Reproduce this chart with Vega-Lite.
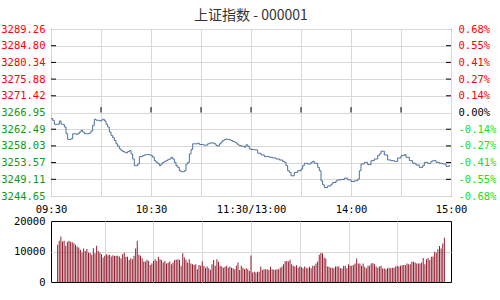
{
  "$schema": "https://vega.github.io/schema/vega-lite/v6.json",
  "background": "white",
  "padding": {"left": 0, "right": 0, "top": 8, "bottom": 0},
  "autosize": {"type": "pad"},
  "title": {"text": "上证指数 - 000001", "font": "Noto Sans CJK SC", "fontSize": 14, "fontWeight": "normal", "color": "#333333", "anchor": "middle", "offset": 1},
  "bounds": "flush",
  "spacing": 25,
  "datasets": {
    "price": [
      {"m":0,"p":3265.33},{"m":1,"p":3264.88},{"m":2,"p":3263.80},{"m":3,"p":3263.80},{"m":4,"p":3263.80},{"m":5,"p":3264.70},{"m":6,"p":3263.80},{"m":7,"p":3263.80},{"m":8,"p":3263.08},{"m":9,"p":3261.29},
      {"m":10,"p":3259.76},{"m":11,"p":3259.76},{"m":12,"p":3259.94},{"m":13,"p":3261.29},{"m":14,"p":3261.29},{"m":15,"p":3261.11},{"m":16,"p":3261.29},{"m":17,"p":3261.74},{"m":18,"p":3262.19},{"m":19,"p":3261.74},
      {"m":20,"p":3261.29},{"m":21,"p":3261.29},{"m":22,"p":3261.29},{"m":23,"p":3261.47},{"m":24,"p":3262.01},{"m":25,"p":3263.53},{"m":26,"p":3265.15},{"m":27,"p":3264.88},{"m":28,"p":3264.88},{"m":29,"p":3264.70},
      {"m":30,"p":3264.88},{"m":31,"p":3265.15},{"m":32,"p":3264.70},{"m":33,"p":3263.80},{"m":34,"p":3263.08},{"m":35,"p":3261.74},{"m":36,"p":3260.84},{"m":37,"p":3260.21},{"m":38,"p":3259.49},{"m":39,"p":3258.59},
      {"m":40,"p":3257.96},{"m":41,"p":3257.24},{"m":42,"p":3256.79},{"m":43,"p":3256.52},{"m":44,"p":3256.34},{"m":45,"p":3256.16},{"m":46,"p":3256.52},{"m":47,"p":3256.79},{"m":48,"p":3255.89},{"m":49,"p":3254.54},
      {"m":50,"p":3252.75},{"m":51,"p":3252.75},{"m":52,"p":3253.20},{"m":53,"p":3255.17},{"m":54,"p":3255.17},{"m":55,"p":3255.44},{"m":56,"p":3255.62},{"m":57,"p":3255.71},{"m":58,"p":3255.71},{"m":59,"p":3255.62},
      {"m":60,"p":3255.44},{"m":61,"p":3254.99},{"m":62,"p":3254.09},{"m":63,"p":3253.64},{"m":64,"p":3253.38},{"m":65,"p":3252.75},{"m":66,"p":3253.20},{"m":67,"p":3253.64},{"m":68,"p":3253.91},{"m":69,"p":3254.09},
      {"m":70,"p":3254.36},{"m":71,"p":3254.54},{"m":72,"p":3254.99},{"m":73,"p":3254.54},{"m":74,"p":3253.64},{"m":75,"p":3252.75},{"m":76,"p":3252.30},{"m":77,"p":3251.40},{"m":78,"p":3251.13},{"m":79,"p":3251.13},
      {"m":80,"p":3251.40},{"m":81,"p":3253.20},{"m":82,"p":3253.64},{"m":83,"p":3255.89},{"m":84,"p":3257.06},{"m":85,"p":3258.59},{"m":86,"p":3258.59},{"m":87,"p":3258.59},{"m":88,"p":3258.77},{"m":89,"p":3258.41},
      {"m":90,"p":3258.41},{"m":91,"p":3258.32},{"m":92,"p":3258.23},{"m":93,"p":3258.23},{"m":94,"p":3258.59},{"m":95,"p":3258.77},{"m":96,"p":3258.86},{"m":97,"p":3258.77},{"m":98,"p":3258.59},{"m":99,"p":3258.14},
      {"m":100,"p":3257.96},{"m":101,"p":3258.59},{"m":102,"p":3259.04},{"m":103,"p":3259.49},{"m":104,"p":3259.76},{"m":105,"p":3259.85},{"m":106,"p":3259.76},{"m":107,"p":3259.67},{"m":108,"p":3259.49},{"m":109,"p":3259.22},
      {"m":110,"p":3259.04},{"m":111,"p":3258.77},{"m":112,"p":3258.32},{"m":113,"p":3258.14},{"m":114,"p":3257.96},{"m":115,"p":3257.96},{"m":116,"p":3257.69},{"m":117,"p":3258.32},{"m":118,"p":3257.96},{"m":119,"p":3257.24},
      {"m":120,"p":3257.06},{"m":122,"p":3256.97},{"m":124,"p":3256.07},{"m":126,"p":3255.62},{"m":128,"p":3255.17},{"m":131,"p":3254.99},{"m":133,"p":3254.81},{"m":135,"p":3254.54},{"m":137,"p":3254.27},{"m":139,"p":3253.91},
      {"m":140,"p":3253.64},{"m":141,"p":3252.75},{"m":142,"p":3251.40},{"m":143,"p":3250.95},{"m":144,"p":3250.05},{"m":146,"p":3250.95},{"m":148,"p":3251.40},{"m":150,"p":3251.85},{"m":151,"p":3252.75},{"m":152,"p":3253.38},
      {"m":154,"p":3253.20},{"m":156,"p":3253.64},{"m":157,"p":3253.91},{"m":158,"p":3253.38},{"m":160,"p":3252.30},{"m":161,"p":3251.40},{"m":162,"p":3248.70},{"m":163,"p":3247.62},{"m":164,"p":3246.90},{"m":166,"p":3247.35},
      {"m":168,"p":3247.80},{"m":169,"p":3248.25},{"m":171,"p":3248.70},{"m":172,"p":3248.97},{"m":174,"p":3249.06},{"m":176,"p":3249.42},{"m":178,"p":3248.97},{"m":180,"p":3248.52},{"m":182,"p":3248.70},{"m":184,"p":3249.15},
      {"m":185,"p":3251.40},{"m":186,"p":3253.20},{"m":188,"p":3253.64},{"m":190,"p":3253.02},{"m":192,"p":3254.09},{"m":194,"p":3254.54},{"m":196,"p":3255.44},{"m":197,"p":3255.89},{"m":198,"p":3256.61},{"m":200,"p":3255.62},
      {"m":202,"p":3254.27},{"m":204,"p":3254.09},{"m":206,"p":3253.91},{"m":208,"p":3254.81},{"m":210,"p":3255.44},{"m":212,"p":3255.71},{"m":213,"p":3254.99},{"m":215,"p":3254.09},{"m":217,"p":3253.38},{"m":219,"p":3252.93},
      {"m":221,"p":3252.30},{"m":223,"p":3252.75},{"m":224,"p":3253.64},{"m":226,"p":3253.38},{"m":228,"p":3253.91},{"m":229,"p":3254.09},{"m":231,"p":3253.64},{"m":233,"p":3253.38},{"m":235,"p":3253.20},{"m":237,"p":3252.57},
      {"m":239,"p":3252.93}
    ],
    "vol": [
      {"m":1,"v":12200},{"m":2,"v":13500},{"m":3,"v":14900},{"m":4,"v":13300},{"m":5,"v":13500},{"m":6,"v":11900},{"m":7,"v":13200},{"m":8,"v":13500},{"m":9,"v":13200},{"m":10,"v":13000},
      {"m":11,"v":12700},{"m":12,"v":12200},{"m":13,"v":11600},{"m":14,"v":11300},{"m":15,"v":10600},{"m":16,"v":9700},{"m":17,"v":11000},{"m":18,"v":10200},{"m":19,"v":10800},{"m":20,"v":9700},
      {"m":21,"v":9500},{"m":22,"v":8900},{"m":23,"v":11100},{"m":24,"v":9400},{"m":25,"v":11900},{"m":26,"v":10200},{"m":27,"v":9700},{"m":28,"v":9100},{"m":29,"v":8000},{"m":30,"v":8600},
      {"m":31,"v":9100},{"m":32,"v":8800},{"m":33,"v":8900},{"m":34,"v":8400},{"m":35,"v":8800},{"m":36,"v":8500},{"m":37,"v":8600},{"m":38,"v":8600},{"m":39,"v":8400},{"m":40,"v":7700},
      {"m":41,"v":9100},{"m":42,"v":9600},{"m":43,"v":8300},{"m":44,"v":8300},{"m":45,"v":7200},{"m":46,"v":7800},{"m":47,"v":7500},{"m":48,"v":8600},{"m":49,"v":11000},{"m":50,"v":13500},
      {"m":51,"v":8900},{"m":52,"v":8600},{"m":53,"v":7800},{"m":54,"v":6700},{"m":55,"v":6700},{"m":56,"v":7300},{"m":57,"v":6900},{"m":58,"v":5600},{"m":59,"v":6100},{"m":60,"v":6900},
      {"m":61,"v":7500},{"m":62,"v":6900},{"m":63,"v":8300},{"m":64,"v":7500},{"m":65,"v":7200},{"m":66,"v":6400},{"m":67,"v":6900},{"m":68,"v":6100},{"m":69,"v":6300},{"m":70,"v":6700},
      {"m":71,"v":5800},{"m":72,"v":6400},{"m":73,"v":7200},{"m":74,"v":7300},{"m":75,"v":7500},{"m":76,"v":7200},{"m":77,"v":5300},{"m":78,"v":9400},{"m":79,"v":8000},{"m":80,"v":7300},
      {"m":81,"v":6400},{"m":82,"v":7500},{"m":83,"v":6100},{"m":84,"v":5800},{"m":85,"v":5600},{"m":86,"v":5800},{"m":87,"v":4200},{"m":88,"v":5600},{"m":89,"v":5300},{"m":90,"v":6700},
      {"m":91,"v":5300},{"m":92,"v":4700},{"m":93,"v":5100},{"m":94,"v":4500},{"m":95,"v":4000},{"m":96,"v":5800},{"m":97,"v":7200},{"m":98,"v":5300},{"m":99,"v":7500},{"m":100,"v":6600},
      {"m":101,"v":5300},{"m":102,"v":5100},{"m":103,"v":4700},{"m":104,"v":5000},{"m":105,"v":5300},{"m":106,"v":4700},{"m":107,"v":5100},{"m":108,"v":4700},{"m":109,"v":4500},{"m":110,"v":4200},
      {"m":111,"v":5300},{"m":112,"v":6400},{"m":113,"v":3900},{"m":114,"v":5300},{"m":115,"v":4700},{"m":116,"v":4200},{"m":117,"v":4500},{"m":118,"v":4200},{"m":119,"v":3600},{"m":120,"v":8700},
      {"m":121,"v":3100},{"m":122,"v":3400},{"m":123,"v":3100},{"m":124,"v":3400},{"m":125,"v":3400},{"m":126,"v":5100},{"m":127,"v":3900},{"m":128,"v":4200},{"m":129,"v":4200},{"m":130,"v":4200},
      {"m":131,"v":3900},{"m":132,"v":5000},{"m":133,"v":4200},{"m":134,"v":4000},{"m":135,"v":4000},{"m":136,"v":4200},{"m":137,"v":4200},{"m":138,"v":4700},{"m":139,"v":5100},{"m":140,"v":5800},
      {"m":141,"v":6800},{"m":142,"v":6900},{"m":143,"v":6700},{"m":144,"v":7300},{"m":145,"v":5800},{"m":146,"v":5300},{"m":147,"v":5100},{"m":148,"v":5500},{"m":149,"v":4700},{"m":150,"v":5100},
      {"m":151,"v":4900},{"m":152,"v":4500},{"m":153,"v":5100},{"m":154,"v":4700},{"m":155,"v":4500},{"m":156,"v":5000},{"m":157,"v":4500},{"m":158,"v":5300},{"m":159,"v":5300},{"m":160,"v":6100},
      {"m":161,"v":6700},{"m":162,"v":8900},{"m":163,"v":9500},{"m":164,"v":9400},{"m":165,"v":8000},{"m":166,"v":7700},{"m":167,"v":5100},{"m":168,"v":5000},{"m":169,"v":4700},{"m":170,"v":4700},
      {"m":171,"v":4500},{"m":172,"v":5100},{"m":173,"v":5100},{"m":174,"v":5100},{"m":175,"v":4500},{"m":176,"v":4400},{"m":177,"v":5300},{"m":178,"v":5300},{"m":179,"v":4500},{"m":180,"v":5800},
      {"m":181,"v":5300},{"m":182,"v":5300},{"m":183,"v":5600},{"m":184,"v":6100},{"m":185,"v":7700},{"m":186,"v":6100},{"m":187,"v":6100},{"m":188,"v":5300},{"m":189,"v":6100},{"m":190,"v":5000},
      {"m":191,"v":4500},{"m":192,"v":5300},{"m":193,"v":5300},{"m":194,"v":6100},{"m":195,"v":6200},{"m":196,"v":5800},{"m":197,"v":5100},{"m":198,"v":4700},{"m":199,"v":5100},{"m":200,"v":5300},
      {"m":201,"v":4400},{"m":202,"v":4500},{"m":203,"v":4200},{"m":204,"v":4500},{"m":205,"v":4700},{"m":206,"v":4500},{"m":207,"v":4700},{"m":208,"v":4700},{"m":209,"v":5100},{"m":210,"v":5300},
      {"m":211,"v":5100},{"m":212,"v":5300},{"m":213,"v":5500},{"m":214,"v":5600},{"m":215,"v":5600},{"m":216,"v":6100},{"m":217,"v":5800},{"m":218,"v":5800},{"m":219,"v":6600},{"m":220,"v":6600},
      {"m":221,"v":6400},{"m":222,"v":6100},{"m":223,"v":6100},{"m":224,"v":6100},{"m":225,"v":6400},{"m":226,"v":7900},{"m":227,"v":5800},{"m":228,"v":7500},{"m":229,"v":7900},{"m":230,"v":7200},
      {"m":231,"v":8300},{"m":232,"v":8400},{"m":233,"v":9900},{"m":234,"v":9600},{"m":235,"v":10700},{"m":236,"v":11800},{"m":237,"v":11000},{"m":238,"v":12600},{"m":239,"v":14500}
    ],
    "xt": [{"m":30},{"m":60},{"m":90},{"m":120},{"m":150},{"m":180},{"m":210}],
    "yt": [{"p":3249.11},{"p":3253.57},{"p":3258.03},{"p":3262.49},{"p":3271.42},{"p":3275.88},{"p":3280.34},{"p":3284.80}]
  },
  "vconcat": [
    {
      "width": 400,
      "height": 167,
      "layer": [
        {
          "data": {"name": "price"},
          "mark": {"type": "line", "interpolate": "step-after", "color": "#4f6f9c", "strokeWidth": 1},
          "encoding": {
            "x": {"field": "m", "type": "quantitative", "scale": {"domain": [0, 240], "nice": false},
              "axis": {"values": [0,30,60,90,120,150,180,210,240], "labelExpr": "datum.value==0?'09:30':datum.value==60?'10:30':datum.value==120?'11:30/13:00':datum.value==180?'14:00':datum.value==240?'15:00':''", "ticks": false, "domain": false, "grid": true, "labelFlush": false, "labelOverlap": false, "labelPadding": 8, "labelColor": "#000000", "title": null}},
            "y": {"field": "p", "type": "quantitative", "scale": {"domain": [3244.65, 3289.26], "nice": false, "zero": false},
              "axis": {"values": [3244.65,3249.11,3253.57,3258.03,3262.49,3266.95,3271.42,3275.88,3280.34,3284.80,3289.26], "format": ".2f", "ticks": false, "domain": false, "grid": true, "labelPadding": 6, "labelOverlap": false, "labelFlush": false, "title": null, "minExtent": 50, "maxExtent": 50,
                "labelColor": {"condition": {"test": "datum.value > 3267", "value": "#ff0000"}, "value": "#119911"}}}
          }
        },
        {
          "mark": {"type": "rule", "color": "#000000", "strokeWidth": 1},
          "encoding": {
            "y": {"datum": 3266.95, "type": "quantitative", "scale": {"domain": [3244.65, 3289.26], "nice": false, "zero": false},
              "axis": {"orient": "right", "values": [3244.65,3249.11,3253.57,3258.03,3262.49,3266.95,3271.42,3275.88,3280.34,3284.80,3289.26], "labelExpr": "(datum.value < 3266.9 ? '-' : '') + format(abs(datum.value - 3266.95) / 3266.95 * 100, '.2f') + '%'", "ticks": false, "domain": false, "grid": false, "labelPadding": 7, "labelOverlap": false, "labelFlush": false, "title": null, "minExtent": 50, "maxExtent": 50,
                "labelColor": {"condition": [{"test": "datum.value > 3267", "value": "#ff0000"}, {"test": "datum.value < 3266.9", "value": "#22dd22"}], "value": "#000000"}}}
          }
        },
        {
          "data": {"name": "xt"},
          "mark": {"type": "rule", "color": "#000000", "strokeWidth": 1},
          "encoding": {
            "x": {"field": "m", "type": "quantitative"},
            "y": {"datum": 3266.95, "type": "quantitative", "scale": {"domain": [3244.65, 3289.26], "nice": false, "zero": false}, "axis": null},
            "y2": {"datum": 3268.4}
          }
        },
        {
          "data": {"name": "yt"},
          "mark": {"type": "rule", "color": "#000000", "strokeWidth": 1},
          "encoding": {
            "x": {"datum": 0, "type": "quantitative"},
            "x2": {"datum": 3},
            "y": {"field": "p", "type": "quantitative", "scale": {"domain": [3244.65, 3289.26], "nice": false, "zero": false}, "axis": null}
          }
        },
        {
          "data": {"name": "yt"},
          "mark": {"type": "rule", "color": "#000000", "strokeWidth": 1},
          "encoding": {
            "x": {"datum": 237, "type": "quantitative"},
            "x2": {"datum": 240},
            "y": {"field": "p", "type": "quantitative", "scale": {"domain": [3244.65, 3289.26], "nice": false, "zero": false}, "axis": null}
          }
        }
      ],
      "resolve": {"scale": {"y": "independent"}}
    },
    {
      "width": 400,
      "height": 61,
      "data": {"name": "vol"},
      "mark": {"type": "bar", "color": "#921f30", "width": 1},
      "encoding": {
        "x": {"field": "m", "type": "quantitative", "scale": {"domain": [0, 240], "nice": false},
          "axis": {"values": [30,60,90,120,150,180,210], "labels": false, "ticks": false, "domain": false, "grid": true, "title": null}},
        "y": {"field": "v", "type": "quantitative", "scale": {"domain": [0, 20000], "nice": false},
          "axis": {"values": [0,10000,20000], "format": "d", "ticks": false,
            "gridColor": {"condition": {"test": "datum.value == 10000", "value": "#d9d9d9"}, "value": "transparent"},
            "domain": false, "grid": true, "labelPadding": 6, "labelOverlap": false, "labelFlush": false, "labelColor": "#000000", "title": null, "minExtent": 50, "maxExtent": 50}}
      }
    }
  ],
  "config": {
    "view": {"stroke": "#000000", "strokeWidth": 1},
    "axis": {"labelFont": "DejaVu Sans Mono", "labelFontSize": 10.5, "gridColor": "#d9d9d9", "gridWidth": 1, "gridOpacity": 1}
  }
}
